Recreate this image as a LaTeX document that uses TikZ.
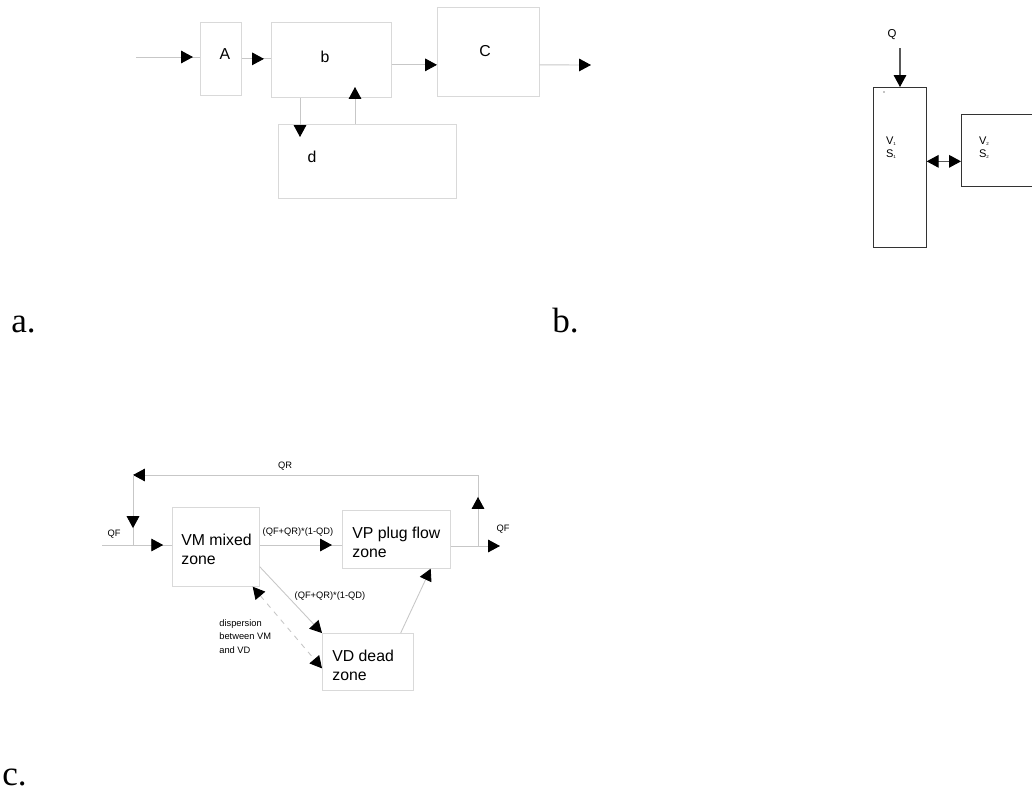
\documentclass[tikz,border=0pt]{standalone}
\usepackage{fontspec}
\setmainfont{Liberation Sans}
\newfontfamily\serifft{Liberation Serif}
\usetikzlibrary{arrows.meta,decorations.markings}

\newcommand{\tinysub}[1]{\raisebox{-0.4pt}{\fontsize{2.5}{2.5}\selectfont #1}}

\begin{document}
\begin{tikzpicture}[x=0.02cm, y=-0.02cm,
  >={Triangle[length=6.8pt,width=7.2pt,color=black]},
  box/.style={draw=black!15, anchor=north west, inner sep=0pt},
  boxk/.style={draw=black!80, anchor=north west, inner sep=0pt},
  ln/.style={draw=black!22, line width=0.5pt},
  lnk/.style={draw=black!65, line width=0.6pt},
  mk/.style={postaction={decorate},
             decoration={markings, mark=at position #1 with {\arrow{>}}}},
  big/.style={font=\fontsize{9}{10.5}\selectfont, inner sep=0pt},
  sm/.style={font=\fontsize{5.3}{7.7}\selectfont, inner sep=0pt},
  vs/.style={font=\fontsize{6.3}{7.4}\selectfont, inner sep=0pt, align=left},
  tag/.style={font=\serifft\fontsize{20}{20}\selectfont, anchor=base west, inner sep=0pt}
]
\clip (0,0) rectangle (1032,792);

% ---- a. boites en serie avec boucle ------------------------------------
\node[box, minimum width=0.82cm, minimum height=1.46cm] (A) at (200,22) {};
\node[box, minimum width=2.4cm, minimum height=1.5cm] (b) at (271,22) {};
\node[box, minimum width=2.04cm, minimum height=1.78cm] (C) at (437,7) {};
\node[box, minimum width=3.56cm, minimum height=1.48cm] (d) at (278,124) {};
\node[big] (tA) at (225,54) {A};
\node[big] (tb) at (325,57) {b};
\node[big] (tC) at (485,51) {C};
\node[big] (td) at (312,157) {d};

\coordinate (in) at (136,57);
\coordinate (out) at (591,65);
\coordinate (bc) at ([yshift=-0.1cm]b.east);
\coordinate (bd) at (300,137);
\coordinate (db) at (355,87);
\draw[ln, mk=-4pt] (in) -- (A.west |- in);
\draw[ln, mk=-4pt] (A.east) -- (b.west |- A.east);
\draw[ln, ->] (bc) -- (C.west |- bc);
\draw[ln, ->] (C.east |- bc) -- (out);
\draw[ln, ->] (b.south -| bd) -- (bd);
\draw[ln, ->] (d.north -| db) -- (db);

% ---- b. deux volumes -----------------------------------------------------
\node[boxk, minimum width=1.06cm, minimum height=3.2cm] (V1) at (873,87) {};
\node[boxk, minimum width=1.8cm, minimum height=1.44cm] (V2) at (961,114) {};
\node[vs] (t1) at (891,148) {V\tinysub{1}\\S\tinysub{1}};
\node[vs] (t2) at (984,148) {V\tinysub{2}\\S\tinysub{2}};
\node[font=\fontsize{6.5}{7}\selectfont, inner sep=0pt] (tQ) at (892,35) {Q};
\fill (884,92) circle (0.4pt);

\coordinate (q) at (900,48);
\coordinate (vv) at ([yshift=0.12cm]V1.east);
\draw[lnk, ->] (q) -- (V1.north -| q);
\draw[lnk, <->] (vv) -- (V2.west |- vv);

% ---- c. zones du reacteur ------------------------------------------------
\node[box, minimum width=1.74cm, minimum height=1.58cm] (VM) at (172,507) {};
\node[box, minimum width=2.16cm, minimum height=1.16cm] (VP) at (342,510) {};
\node[box, minimum width=1.82cm, minimum height=1.14cm] (VD) at (322,633) {};
\node[big, anchor=west, align=left] (tVM) at (181,549.5) {VM mixed\\zone};
\node[big, anchor=west, align=left] (tVP) at (352,542.5) {VP plug flow\\zone};
\node[big, anchor=west, align=left] (tVD) at (332,665.5) {VD dead\\zone};

\node[sm] (lQR) at (285,466) {QR};
\node[sm] (lQFi) at (114,534) {QF};
\node[sm] (lQFo) at (503,529) {QF};
\node[sm] (lMP) at (298,532) {(QF+QR)*(1-QD)};
\node[sm] (lMD) at (330,596) {(QF+QR)*(1-QD)};
\node[sm, anchor=west, align=left] (lDisp) at (219,636.5) {dispersion\\between VM\\and VD};

\coordinate (qf) at (102,545);
\coordinate (qo) at (500,546);
\coordinate (jR) at (478,546);
\coordinate (cR) at (478,475);
\coordinate (cL) at (133,475);
\coordinate (jL) at (133,545);
\draw[ln, mk=-5pt] (qf) -- (VM.west |- qf);
\draw[ln, mk=-5.7pt] (VM.east |- qf) -- (VP.west |- qf);
\draw[ln, ->] (VP.east |- qo) -- (qo);
% recyclage QR
\draw[ln, mk=-12.5pt] (jR) -- (cR);
\draw[ln, ->] (cR) -- (cL);
\draw[ln, mk=-9.6pt] (cL) -- (jL);
% echanges avec la zone morte
\draw[ln, ->] ([yshift=0.4cm]VM.south east) -- (VD.north west);
\draw[ln, dashed, <->] ([xshift=-0.14cm]VM.south east) -- ([yshift=-0.13cm]VD.west);
\draw[ln, ->] ([xshift=-0.26cm]VD.north east) -- ([xshift=-0.4cm]VP.south east);

% ---- reperes ---------------------------------------------------------------
\node[tag] (ta) at (11,332) {a.};
\node[tag] (tb2) at (552,332) {b.};
\node[tag] (tc) at (2,785) {c.};
\end{tikzpicture}
\end{document}
